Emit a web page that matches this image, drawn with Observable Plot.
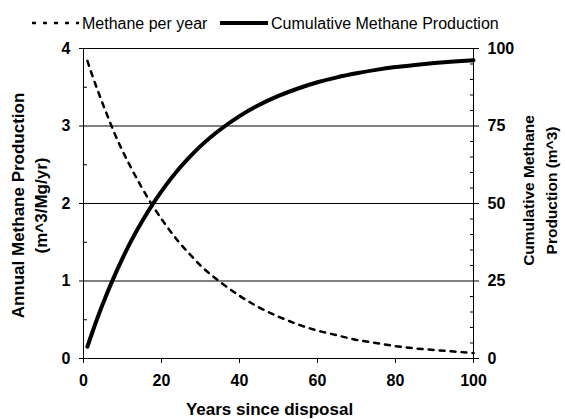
<!DOCTYPE html>
<html>
<head>
<meta charset="utf-8">
<script src="https://cdn.jsdelivr.net/npm/d3@7"></script>
<script src="https://cdn.jsdelivr.net/npm/@observablehq/plot@0.6"></script>
<style>
  html, body { margin: 0; padding: 0; background: #fff; }
  #wrap { position: relative; width: 565px; height: 419px; overflow: hidden; font-family: "Liberation Sans", Arial, sans-serif; }
  #legend { position: absolute; left: 0; top: 0; }
</style>
</head>
<body>
<div id="wrap"></div>
<script>
// ---- data ----
const years      = [1, 2, 4, 6, 8, 10, 12, 15, 18, 21, 24, 27, 30, 35, 40, 45, 50, 55, 60, 65, 70, 75, 80, 85, 90, 95, 100];
const annual     = [3.84, 3.69, 3.41, 3.15, 2.90, 2.68, 2.48, 2.20, 1.95, 1.73, 1.53, 1.36, 1.20, 0.99, 0.81, 0.66, 0.54, 0.44, 0.36, 0.30, 0.24, 0.20, 0.16, 0.13, 0.11, 0.09, 0.07];
const cumulative = [3.8, 7.5, 14.5, 20.9, 26.8, 32.3, 37.4, 44.2, 50.3, 55.7, 60.5, 64.7, 68.5, 73.8, 78.2, 81.8, 84.7, 87.1, 89.1, 90.7, 92.0, 93.1, 94.0, 94.7, 95.3, 95.8, 96.2];
const xTicks     = [0, 20, 40, 60, 80, 100];
const leftTicks  = [0, 1, 2, 3, 4];
const leftMinor  = [0.5, 1.5, 2.5, 3.5];
const rightTicks = [0, 25, 50, 75, 100];
const rightMinor = [5, 10, 15, 20, 30, 35, 40, 45, 55, 60, 65, 70, 80, 85, 90, 95];
const gridLines  = [1, 2, 3, 4];
const seriesNames = ["Methane per year", "Cumulative Methane Production"];
const leftTitle  = ["Annual Methane Production", "(m^3/Mg/yr)"];
const rightTitle = ["Cumulative Methane", "Production (m^3)"];
const xTitle     = "Years since disposal";
const RATIO = 25; // right axis units per left axis unit

const annualData = years.map((y, i) => ({year: y, value: annual[i]}));
const cumData    = years.map((y, i) => ({year: y, value: cumulative[i]}));

const bold = {fontSize: 16, fontWeight: "bold"};

const chart = Plot.plot({
  width: 565,
  height: 419,
  marginLeft: 83,
  marginRight: 92,
  marginTop: 48,
  marginBottom: 61,
  style: {fontFamily: "'Liberation Sans', Arial, sans-serif", background: "white", color: "black", overflow: "visible"},
  x: {domain: [0, 100], label: null},
  y: {domain: [0, 4], label: null},
  marks: [
    Plot.ruleY(gridLines, {stroke: "black", strokeWidth: 1}),
    Plot.line(annualData, {x: "year", y: "value", stroke: "black", strokeWidth: 2.5, strokeDasharray: "5,6", curve: "monotone-x"}),
    Plot.line(cumData, {x: "year", y: d => d.value / RATIO, stroke: "black", strokeWidth: 4, curve: "monotone-x"}),
    Plot.ruleX([0], {stroke: "black", strokeWidth: 1}),
    Plot.ruleX([100], {stroke: "black", strokeWidth: 1}),
    Plot.ruleY([0], {stroke: "black", strokeWidth: 1}),
    // left axis
    Plot.axisY({anchor: "left", ticks: leftTicks, tickSize: 4, tickPadding: 9, tickFormat: d => String(d), label: null, ...bold}),
    Plot.axisY({anchor: "left", ticks: leftMinor, tickSize: 4, insetLeft: 4, tickFormat: () => "", label: null}),
    // right axis (cumulative)
    Plot.axisY(rightTicks.map(d => d / RATIO), {anchor: "right", tickSize: 5, tickPadding: 9, tickFormat: d => String(Math.round(d * RATIO)), label: null, ...bold}),
    Plot.axisY(rightMinor.map(d => d / RATIO), {anchor: "right", tickSize: 4, insetRight: 4, tickFormat: () => "", label: null}),
    // x axis
    Plot.axisX({anchor: "bottom", ticks: xTicks, tickSize: 5, tickPadding: 11, tickFormat: d => String(d), label: null, ...bold}),
    // titles
    Plot.text([leftTitle[0]], {frameAnchor: "left", dx: -65, dy: 2, rotate: -90, textAnchor: "middle", lineAnchor: "middle", fontSize: 17, fontWeight: "bold"}),
    Plot.text([leftTitle[1]], {frameAnchor: "left", dx: -42, dy: 2, rotate: -90, textAnchor: "middle", lineAnchor: "middle", fontSize: 17, fontWeight: "bold"}),
    Plot.text([rightTitle[0]], {frameAnchor: "right", dx: 56, dy: -13, rotate: -90, textAnchor: "middle", lineAnchor: "middle", fontSize: 15.5, fontWeight: "bold"}),
    Plot.text([rightTitle[1]], {frameAnchor: "right", dx: 79, dy: -13, rotate: -90, textAnchor: "middle", lineAnchor: "middle", fontSize: 15.5, fontWeight: "bold"}),
    Plot.text([xTitle], {frameAnchor: "bottom", dx: -9, dy: 51, textAnchor: "middle", lineAnchor: "middle", fontSize: 17, fontWeight: "bold"})
  ]
});

const wrap = document.getElementById("wrap");
wrap.appendChild(chart);

// legend overlay
const leg = d3.create("svg").attr("id", "legend").attr("width", 565).attr("height", 40)
  .style("font-family", "'Liberation Sans', Arial, sans-serif");
leg.append("line").attr("x1", 32).attr("x2", 79).attr("y1", 23).attr("y2", 23)
  .attr("stroke", "black").attr("stroke-width", 2.5).attr("stroke-dasharray", "4,7");
leg.append("text").attr("x", 82).attr("y", 28.5).attr("font-size", 16).text(seriesNames[0]);
leg.append("line").attr("x1", 220).attr("x2", 268).attr("y1", 23).attr("y2", 23)
  .attr("stroke", "black").attr("stroke-width", 4);
leg.append("text").attr("x", 271).attr("y", 28.5).attr("font-size", 16).text(seriesNames[1]);
wrap.appendChild(leg.node());
</script>
</body>
</html>
